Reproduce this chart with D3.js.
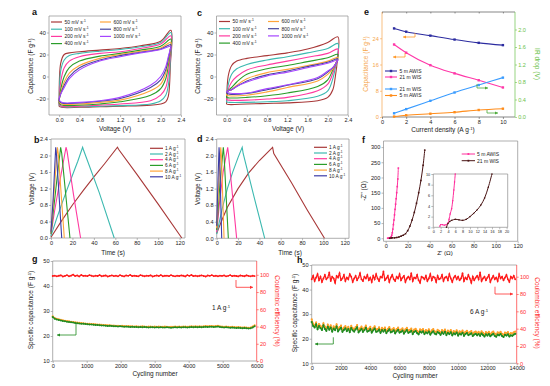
<!DOCTYPE html>
<html>
<head>
<meta charset="utf-8">
<script src="https://cdn.jsdelivr.net/npm/d3@7"></script>
<style>
  body { margin: 0; background: #fff; }
  svg { font-family: "Liberation Sans", Arial, sans-serif; }
</style>
</head>
<body>
<svg id="fig" width="550" height="386"></svg>
<script>
"use strict";

// ---------- data ----------
// CV (a: 5 m AWIS, c: 21 m WIS), capacitance F/g at fixed voltages
var cvRates = ["50", "100", "200", "400", "600", "800", "1000"];
var cvColors = ["#a83838", "#3cb9b0", "#ff3aa0", "#2a9d2a", "#ffa53a", "#45459e", "#a545ff"];
var cvUpV = [0, 0.03, 0.1, 0.2, 0.4, 0.8, 1.2, 1.6, 2.0, 2.2];
var cvLowV = [2.19, 2.15, 2.1, 2.0, 1.8, 1.2, 0.8, 0.4, 0.05, 0.0];
var aUp = [
  [-26, 12, 20, 21.5, 22.5, 24, 25.5, 28, 32, 42],
  [-25, 5, 15, 19, 21, 23, 24.5, 27, 31, 40],
  [-24, -5, 8, 14, 18, 21, 22.5, 25.5, 29.5, 37],
  [-23, -12, 0, 8, 14, 18.5, 21, 24, 27.5, 34],
  [-22, -15, -5, 3, 10, 16.5, 20, 23, 26, 31],
  [-21, -16, -8, 0, 8, 15, 19, 22, 25, 29],
  [-20, -16, -10, -2, 6, 14, 18, 21.5, 24.5, 27.5]
];
var aLow = [
  [10, -18, -23, -25, -26, -27, -27.5, -28, -28, -27],
  [15, -8, -17, -22, -25, -26.5, -27, -27.5, -27.5, -26],
  [20, 2, -10, -17, -22, -25, -26, -27, -27, -25],
  [24, 10, -2, -11, -17, -23, -25, -26, -26, -24],
  [25, 14, 3, -7, -13, -21.5, -23.5, -25, -25, -23],
  [25, 16, 6, -3, -10, -20, -22.5, -24, -24, -22],
  [25, 18, 9, 0, -8, -19, -22, -23.5, -23.5, -21]
];
var cUp = [
  [-24, 0, 10, 14, 16.5, 19, 21.5, 25, 31, 36],
  [-22, -8, 2, 7, 11, 15, 18, 21.5, 25.5, 30],
  [-20, -12, -5, 0, 6, 10.5, 14, 17.5, 21, 25],
  [-18, -13, -10, -5, 2, 7, 10, 13.5, 17, 20],
  [-16, -13, -12, -8, -2, 3.5, 6.5, 10, 14, 17.5],
  [-15, -13, -12, -9, -4, 1.5, 5, 9, 13, 16],
  [-14, -13, -12, -9, -5, 0.5, 4, 8, 12, 15]
];
var cLow = [
  [15, 0, -12, -19, -22, -24, -24.5, -25, -25.5, -25],
  [18, 8, -2, -13, -18, -22, -23, -23.5, -23.5, -23],
  [17, 10, 3, -7, -13, -19, -20.5, -21.5, -21.5, -21],
  [16, 11, 6, -3, -9, -15, -17.5, -19, -19.5, -19],
  [15, 11, 7, 2, -4, -10, -14, -17, -17.5, -17],
  [14, 11, 8, 4, -2, -8, -12, -15.5, -16, -15],
  [14, 11, 8, 5, -1, -7.5, -11, -15, -15, -14]
];

// GCD [time s, voltage V]
var gcdRates = ["1", "2", "4", "6", "8", "10"];
var gcdColors = ["#a83838", "#3cb9b0", "#ff3aa0", "#2a9d2a", "#ffa53a", "#3c3ca8"];
var bCurves = [
  [[0, 0.02], [10, 0.42], [20, 0.8], [30, 1.15], [40, 1.48], [50, 1.8], [62, 2.2], [63, 2.15], [80, 1.55], [100, 0.82], [122, 0]],
  [[0, 0.05], [5, 0.45], [10, 0.82], [15, 1.18], [20, 1.52], [25, 1.86], [29.5, 2.2], [30.5, 2.12], [45, 1.1], [59, 0]],
  [[0, 0.1], [3, 0.6], [7, 1.2], [10.5, 1.7], [14, 2.2], [15, 2.1], [21, 1.05], [27.6, 0]],
  [[0, 0.1], [2, 0.6], [5, 1.3], [9, 2.2], [10, 2.05], [17.7, 0]],
  [[0, 0.15], [3, 1.15], [6, 2.2], [6.8, 2.05], [12.4, 0]],
  [[0, 0.15], [2, 0.95], [4.4, 2.2], [5.2, 2.0], [10, 0]]
];
var dCurves = [
  [[0, 0.12], [5, 0.45], [10, 0.75], [20, 1.2], [30, 1.58], [40, 1.88], [52.4, 2.2], [53.5, 2.05], [70, 1.35], [85, 0.68], [101, 0]],
  [[0, 0.1], [5, 0.7], [10, 1.2], [15, 1.6], [20, 1.95], [23.9, 2.2], [24.8, 2.05], [35, 1.0], [45, 0]],
  [[0, 0.15], [3, 0.95], [6, 1.6], [10.3, 2.2], [11, 2.05], [18.7, 0]],
  [[0, 0.2], [3, 1.3], [6.2, 2.2], [6.9, 2.0], [10.9, 0]],
  [[0, 0.25], [2, 1.4], [3.8, 2.2], [4.4, 2.0], [6.9, 0]],
  [[0, 0.3], [1.2, 1.4], [2.2, 2.2], [2.7, 2.0], [4.7, 0]]
];

// e: rate performance
var eCurrent = [1, 2, 4, 6, 8, 10];
var eCapAWIS = [27.0, 26.0, 24.8, 23.6, 22.6, 21.9];
var eCapWIS = [22.1, 19.6, 15.8, 13.3, 11.2, 9.0];
var eIrWIS = [0.085, 0.18, 0.37, 0.56, 0.73, 0.90];
var eIrAWIS = [0.01, 0.04, 0.075, 0.11, 0.16, 0.19];

// f: Nyquist [Z' ohm, -Z'' ohm]
var fAWIS = [[1.8, 0.3], [2.5, 0.5], [3.5, 0.5], [4, 1], [4.5, 2], [5, 5], [5.5, 10], [6, 18], [6.5, 30], [7, 45], [7.5, 60],
  [8, 77], [8.5, 95], [9, 112], [9.5, 130], [10, 150], [10.5, 170], [11, 195], [11.5, 231]];
var fWIS = [[3.6, 0], [5, 1], [6, 1.5], [8, 1.3], [10, 2.5], [12, 4], [14, 7], [16, 10], [18, 15], [20, 25], [22, 40],
  [24, 60], [26, 85], [28, 115], [30, 150], [32, 190], [34, 240], [35.5, 290]];
var fAWISzoom = [[1.8, 0.2], [2, 0.5], [2.5, 0.5], [3, 0.4], [3.5, 0.5], [4, 0.8], [4.3, 1.5], [4.6, 2.5], [5, 3.5],
  [5.3, 5], [5.6, 7], [5.8, 8.5], [6, 10]];
var fWISzoom = [[3.6, 0], [4, 0.7], [4.5, 1.1], [5, 1.3], [6, 1.5], [7, 1.4], [8, 1.3], [9, 1.5], [10, 2], [11, 2.6],
  [12, 3.3], [13, 4.2], [14, 5.5], [15, 7.5], [16, 10]];

// g: cycling at 1 A/g (one value every gStep cycles)
var gStep = 60;
var gCE = [98.6,99.1,98.2,98.9,99.4,98.0,98.7,99.6,98.3,99.0,100.2,98.5,99.3,98.1,99.8,98.7,99.0,98.4,99.5,98.9,
  98.2,99.1,98.6,99.7,98.3,98.9,99.2,98.0,98.8,99.4,98.5,99.0,98.2,99.6,98.7,98.1,99.3,98.8,99.9,98.4,
  99.0,98.6,98.2,99.5,98.9,98.3,99.1,98.7,99.4,98.0,98.8,99.2,98.5,99.7,98.3,98.9,99.1,98.4,99.6,98.7,
  98.2,99.0,98.6,99.3,98.9,98.1,99.5,98.7,99.8,98.4,99.1,98.3,98.9,99.4,98.6,98.0,99.2,98.8,99.6,98.5,
  98.9,98.3,99.1,98.7,99.3,98.2,98.8,99.5,98.4,99.0,98.6,98.1,99.2,98.8,98.3,99.4,98.7,98.2,98.9,98.5];
var gCapGreen = [27.6,26.9,26.6,26.4,26.2,26.0,25.9,25.7,25.6,25.5,25.4,25.2,25.1,25.0,24.9,24.9,24.8,24.7,24.6,24.6,
  24.5,24.4,24.4,24.3,24.2,24.2,24.1,24.0,24.1,24.0,23.9,23.9,23.8,23.9,23.8,23.7,23.8,23.7,23.6,23.7,
  23.6,23.6,23.5,23.6,23.5,23.6,23.5,23.4,23.5,23.5,23.4,23.5,23.4,23.5,23.4,23.4,23.5,23.4,23.3,23.4,
  23.5,23.4,23.5,23.4,23.5,23.5,23.4,23.5,23.6,23.5,23.6,23.5,23.6,23.5,23.6,23.7,23.6,23.7,23.7,23.6,
  23.7,23.8,23.6,23.5,23.4,23.5,23.4,23.3,23.4,23.3,23.2,23.3,23.2,23.1,23.2,23.1,23.0,23.1,23.4,23.9];
var gCapOrange = [27.9,27.2,26.9,26.7,26.5,26.3,26.1,26.0,25.9,25.7,25.6,25.5,25.4,25.3,25.2,25.1,25.0,24.9,24.9,24.8,
  24.8,24.7,24.6,24.6,24.5,24.4,24.4,24.3,24.3,24.2,24.2,24.1,24.1,24.0,24.1,24.0,23.9,24.0,23.9,23.9,
  23.8,23.9,23.8,23.8,23.9,23.8,23.7,23.8,23.8,23.7,23.8,23.7,23.8,23.7,23.7,23.8,23.7,23.6,23.7,23.7,
  23.8,23.7,23.8,23.7,23.8,23.8,23.7,23.8,23.9,23.8,23.9,23.8,23.9,23.8,23.9,24.0,23.9,24.0,24.0,23.9,
  24.0,24.1,23.9,23.8,23.7,23.8,23.7,23.6,23.7,23.6,23.5,23.6,23.5,23.4,23.5,23.4,23.3,23.4,23.8,24.3];

// h: cycling at 6 A/g (one value every hStep cycles)
var hStep = 100;
var hCE = [97,101,95,99,103,96,100,94,98,102,97,99,105,95,100,98,93,101,99,104,
  96,98,102,95,99,97,103,100,94,98,101,96,99,104,97,95,100,98,102,96,
  99,94,101,97,103,98,95,100,99,106,96,98,101,94,99,102,97,95,100,98,
  103,96,99,101,94,98,100,97,104,95,99,98,102,96,93,100,99,97,101,95,
  98,103,96,100,99,94,101,97,98,102,95,99,100,96,103,98,94,99,101,97,
  100,96,98,104,95,99,97,102,98,93,100,96,99,101,97,105,95,98,100,96,
  99,102,94,98,101,97,99,95,103,98,100,96,99,102,97,94,100,98,101,97];
var hCapGreen = [26.8,25.2,24.6,25.8,23.9,25.1,24.3,23.6,25.4,24.0,
  23.2,24.8,23.7,24.5,22.9,24.1,23.5,24.9,23.0,23.8,
  24.4,22.8,23.6,24.2,23.1,23.9,22.7,24.3,23.4,22.9,
  23.8,24.6,22.6,23.3,24.0,22.8,23.5,24.4,22.9,23.2,
  23.9,22.5,23.4,24.1,22.8,23.0,23.7,22.4,23.5,22.9,
  23.6,22.3,23.1,23.8,22.6,22.9,23.4,22.2,23.0,23.6,
  22.5,22.8,23.3,22.1,22.9,23.5,22.4,22.7,23.2,21.9,
  22.8,23.1,22.3,21.8,22.9,22.5,23.0,21.9,22.6,22.2,
  22.9,21.7,22.5,23.0,22.1,21.8,22.7,22.3,21.6,22.6,
  22.0,22.8,21.5,22.4,21.9,22.6,21.4,22.2,21.8,22.5,
  21.3,22.1,21.7,22.4,21.2,21.9,22.3,21.5,21.8,22.2,
  21.1,21.7,22.0,21.4,21.9,21.2,22.1,21.5,20.9,21.8,
  21.3,21.9,21.0,21.6,22.0,21.2,20.8,21.7,21.4,21.9,
  21.1,20.7,21.6,21.3,21.8,20.9,21.4,21.2,21.7,22.0];
var hCapOrange = [27.9,26.1,25.3,26.6,24.8,26.0,25.2,24.4,26.3,24.9,
  24.1,25.7,24.6,25.4,23.8,25.0,24.4,25.8,23.9,24.7,
  25.3,23.7,24.5,25.1,24.0,24.8,23.6,25.2,24.3,23.8,
  24.7,25.5,23.5,24.2,24.9,23.7,24.4,25.3,23.8,24.1,
  24.8,23.4,24.3,25.0,23.7,23.9,24.6,23.3,24.4,23.8,
  24.5,23.2,24.0,24.7,23.5,23.8,24.3,23.1,23.9,24.5,
  23.4,23.7,24.2,23.0,23.8,24.4,23.3,23.6,24.1,22.8,
  23.7,24.0,23.2,22.7,23.8,23.4,23.9,22.8,23.5,23.1,
  23.8,22.6,23.4,23.9,23.0,22.7,23.6,23.2,22.5,23.5,
  22.9,23.7,22.4,23.3,22.8,23.5,22.3,23.1,22.7,23.4,
  22.2,23.0,22.6,23.3,22.1,22.8,23.2,22.4,22.7,23.1,
  22.0,22.6,22.9,22.3,22.8,22.1,23.0,22.4,21.8,22.7,
  22.2,22.8,21.9,22.5,22.9,22.1,21.7,22.6,22.3,22.8,
  22.0,21.6,22.5,22.2,22.7,21.8,22.3,22.1,22.6,22.9];

// ---------- helpers ----------
var svg = d3.select("#fig");
var FS = 5.6;

function styleAxis(sel, lineCol, textCol, fs) {
  sel.select(".domain").remove();
  sel.selectAll(".tick line").attr("stroke", lineCol).attr("stroke-width", 0.6);
  sel.selectAll(".tick text").attr("fill", textCol).attr("font-size", fs)
    .attr("font-family", "Liberation Sans, Arial, sans-serif");
}

function makePanel(p) {
  var x = d3.scaleLinear().domain(p.xDom).range([p.left, p.right]);
  var y = d3.scaleLinear().domain(p.yDom).range([p.bottom, p.top]);
  var g = svg.append("g");
  var fs = p.fs || FS;
  var frame = p.frame || "#8c8c8c";
  var lc = p.leftColor || frame, rc = p.rightColor || frame;

  var xa = g.append("g").attr("transform", "translate(0," + p.bottom + ")")
    .call(d3.axisBottom(x).tickValues(p.xTicks).tickFormat(p.xFmt).tickSize(2).tickPadding(1.2));
  styleAxis(xa, frame, "#222", fs);
  var ya = g.append("g").attr("transform", "translate(" + p.left + ",0)")
    .call(d3.axisLeft(y).tickValues(p.yTicks).tickFormat(p.yFmt).tickSize(2).tickPadding(1.2));
  styleAxis(ya, lc, p.leftColor || "#222", fs);

  var y2 = null;
  if (p.y2Dom) {
    y2 = d3.scaleLinear().domain(p.y2Dom).range([p.bottom, p.top]);
    var ra = g.append("g").attr("transform", "translate(" + p.right + ",0)")
      .call(d3.axisRight(y2).tickValues(p.y2Ticks).tickFormat(p.y2Fmt).tickSize(2).tickPadding(1.2));
    styleAxis(ra, rc, rc, fs);
  }
  if (p.topTicks) {
    var ta = g.append("g").attr("transform", "translate(0," + p.top + ")")
      .call(d3.axisTop(x).tickValues(p.xTicks).tickFormat("").tickSize(-1.5));
    styleAxis(ta, frame, "#222", fs);
  }
  g.append("line").attr("x1", p.left).attr("x2", p.right).attr("y1", p.bottom).attr("y2", p.bottom).attr("stroke", frame).attr("stroke-width", 0.7);
  g.append("line").attr("x1", p.left).attr("x2", p.right).attr("y1", p.top).attr("y2", p.top).attr("stroke", frame).attr("stroke-width", 0.7);
  g.append("line").attr("x1", p.left).attr("x2", p.left).attr("y1", p.top).attr("y2", p.bottom).attr("stroke", lc).attr("stroke-width", 0.7);
  g.append("line").attr("x1", p.right).attr("x2", p.right).attr("y1", p.top).attr("y2", p.bottom).attr("stroke", rc).attr("stroke-width", 0.7);
  return { x: x, y: y, y2: y2, g: g };
}

// text with a "-1" superscript part; parts: [text, isSup]
function richText(x, y, parts, opt) {
  opt = opt || {};
  var fs = opt.fs || 6.5;
  var t = svg.append("text").attr("x", x).attr("y", y)
    .attr("font-size", fs).attr("fill", opt.color || "#222")
    .attr("text-anchor", opt.anchor || "middle");
  if (opt.rotate) t.attr("transform", "rotate(" + opt.rotate + "," + x + "," + y + ")");
  if (opt.bold) t.attr("font-weight", "bold");
  parts.forEach(function(pt) {
    var s = t.append("tspan").text(pt[0]);
    if (pt[1]) s.attr("font-size", fs * 0.65).attr("baseline-shift", "super");
  });
  return t;
}

function panelLabel(x, y, s) {
  svg.append("text").attr("x", x).attr("y", y).attr("font-size", 9).attr("font-weight", "bold")
    .attr("fill", "#111").text(s);
}

function arrow(pts, color, headDir) {
  var line = d3.line();
  svg.append("path").attr("d", line(pts)).attr("fill", "none").attr("stroke", color).attr("stroke-width", 0.8);
  var e = pts[pts.length - 1];
  var s = headDir; // -1 left, +1 right
  svg.append("path").attr("d", "M" + e[0] + "," + e[1] + " l" + (-3 * s) + ",-1.6 l0,3.2 z").attr("fill", color);
}

function fmt1(d) { return d3.format(".1f")(d); }

// ---------- a & c: CV ----------
function drawCV(P, ups, lows, legendX, legendY) {
  var line = d3.line().x(function(d) { return P.x(d[0]); }).y(function(d) { return P.y(d[1]); })
    .curve(d3.curveCatmullRomClosed.alpha(0.5));
  cvRates.forEach(function(r, i) {
    var pts = cvUpV.map(function(v, k) { return [v, ups[i][k]]; })
      .concat(cvLowV.map(function(v, k) { return [v, lows[i][k]]; }));
    P.g.append("path").attr("d", line(pts)).attr("fill", "none")
      .attr("stroke", cvColors[i]).attr("stroke-width", 1.1);
  });
  cvRates.forEach(function(r, i) {
    var col = i < 4 ? 0 : 1, row = i < 4 ? i : i - 4;
    var lx = legendX + col * 49, ly = legendY + row * 7.2;
    svg.append("line").attr("x1", lx).attr("x2", lx + 11).attr("y1", ly).attr("y2", ly)
      .attr("stroke", cvColors[i]).attr("stroke-width", 1.2);
    richText(lx + 13.5, ly + 1.8, [[r + " mV s", false], ["-1", true]], { fs: 5, anchor: "start" });
  });
}

var cvCommon = { xDom: [-0.2, 2.4], yDom: [-35, 55], xTicks: [0, 0.4, 0.8, 1.2, 1.6, 2.0, 2.4], yTicks: [-20, 0, 20, 40],
  xFmt: fmt1, yFmt: d3.format("d") };
var PA = makePanel(Object.assign({ left: 49, right: 181, top: 16, bottom: 115 }, cvCommon));
drawCV(PA, aUp, aLow, 51, 22);
var PC = makePanel(Object.assign({ left: 216.5, right: 348, top: 16, bottom: 115 }, cvCommon));
drawCV(PC, cUp, cLow, 219, 21.5);

richText(115, 131, [["Voltage (V)", false]], {});
richText(288, 131, [["Voltage (V)", false]], {});
richText(33, 66, [["Capacitance (F g", false], ["-1", true], [")", false]], { rotate: -90 });
richText(200, 66, [["Capacitance (F g", false], ["-1", true], [")", false]], { rotate: -90 });
panelLabel(32, 15, "a");
panelLabel(197, 16, "c");

// ---------- b & d: GCD ----------
function drawGCD(P, curves, lx, ly) {
  var line = d3.line().x(function(d) { return P.x(d[0]); }).y(function(d) { return P.y(d[1]); })
    .curve(d3.curveLinear);
  curves.forEach(function(c, i) {
    P.g.append("path").attr("d", line(c)).attr("fill", "none")
      .attr("stroke", gcdColors[i]).attr("stroke-width", 1.1);
  });
  gcdRates.forEach(function(r, i) {
    var yy = ly + i * 5.7;
    svg.append("line").attr("x1", lx).attr("x2", lx + 13).attr("y1", yy).attr("y2", yy)
      .attr("stroke", gcdColors[i]).attr("stroke-width", 1.2);
    richText(lx + 15, yy + 1.7, [[r + " A g", false], ["-1", true]], { fs: 4.8, anchor: "start" });
  });
}
var gcdCommon = { yDom: [0, 2.4], xTicks: [0, 20, 40, 60, 80, 100, 120], yTicks: [0, 0.4, 0.8, 1.2, 1.6, 2.0, 2.4],
  xFmt: d3.format("d"), yFmt: fmt1 };
var PB = makePanel(Object.assign({ left: 51, right: 185, top: 139, bottom: 238, xDom: [0, 125] }, gcdCommon));
drawGCD(PB, bCurves, 150, 148.3);
var PD = makePanel(Object.assign({ left: 216.7, right: 349, top: 139, bottom: 238.3, xDom: [0, 124] }, gcdCommon));
drawGCD(PD, dCurves, 314, 147.3);

richText(113, 254.5, [["Time (s)", false]], {});
richText(290, 254.5, [["Time (s)", false]], {});
richText(34, 189, [["Voltage (V)", false]], { rotate: -90 });
richText(200, 189, [["Voltage (V)", false]], { rotate: -90 });
panelLabel(34, 143, "b");
panelLabel(197, 142, "d");

// ---------- e: rate performance ----------
var orangeAx = "#f5a54a", greenAx = "#6cc24a";
var PE = makePanel({ left: 382, right: 515, top: 12, bottom: 117, xDom: [0, 11], yDom: [0, 32],
  xTicks: [0, 2, 4, 6, 8, 10], yTicks: [0, 8, 16, 24], xFmt: d3.format("d"), yFmt: d3.format("d"),
  y2Dom: [0, 2.4], y2Ticks: [0, 0.4, 0.8, 1.2, 1.6, 2.0], y2Fmt: fmt1,
  leftColor: orangeAx, rightColor: greenAx, frame: "#555", topTicks: true });

var eSeries = [
  { v: eCapAWIS, axis: "y", color: "#2c2ca0", name: "5 m AWIS" },
  { v: eCapWIS, axis: "y", color: "#ff37a8", name: "21 m WIS" },
  { v: eIrWIS, axis: "y2", color: "#3a9cff", name: "21 m WIS" },
  { v: eIrAWIS, axis: "y2", color: "#ff8c1a", name: "5 m AWIS" }
];
var eLegendY = [71, 77, 89, 95.5];
eSeries.forEach(function(s, i) {
  var ys = PE[s.axis];
  var pts = eCurrent.map(function(c, k) { return [PE.x(c), ys(s.v[k])]; });
  PE.g.append("path").attr("d", d3.line().curve(d3.curveMonotoneX)(pts)).attr("fill", "none")
    .attr("stroke", s.color).attr("stroke-width", 1.1);
  PE.g.selectAll(null).data(pts).enter().append("rect")
    .attr("x", function(d) { return d[0] - 1.2; }).attr("y", function(d) { return d[1] - 1.2; })
    .attr("width", 2.4).attr("height", 2.4).attr("fill", s.color);
  var yy = eLegendY[i];
  svg.append("line").attr("x1", 385).attr("x2", 397).attr("y1", yy).attr("y2", yy)
    .attr("stroke", s.color).attr("stroke-width", 1.1);
  svg.append("rect").attr("x", 389.8).attr("y", yy - 1.2).attr("width", 2.4).attr("height", 2.4).attr("fill", s.color);
  svg.append("text").attr("x", 399.5).attr("y", yy + 1.8).attr("font-size", 5).attr("fill", "#222").text(s.name);
});
arrow([[415, 33], [415, 37], [403, 37]], "#ff9a2a", -1);
arrow([[405, 53], [405, 57], [393, 57]], "#ff9a2a", -1);
arrow([[477, 84], [477, 88], [488, 88]], "#4caa3a", 1);
arrow([[487, 110], [487, 113], [498, 113]], "#4caa3a", 1);

richText(443, 132, [["Current density (A g", false], ["-1", true], [")", false]], {});
richText(368, 64, [["Capacitance (F g", false], ["-1", true], [")", false]], { rotate: -90, color: orangeAx });
richText(535, 64, [["IR drop (V)", false]], { rotate: 90, color: greenAx });
panelLabel(364, 15, "e");

// ---------- f: Nyquist ----------
var PF = makePanel({ left: 383.5, right: 517.7, top: 141, bottom: 241.3, xDom: [-2, 120], yDom: [-10, 320],
  xTicks: [0, 20, 40, 60, 80, 100, 120], yTicks: [0, 50, 100, 150, 200, 250, 300],
  xFmt: d3.format("d"), yFmt: d3.format("d"), frame: "#8c8c8c" });
var fColors = ["#ff2f9c", "#4a1616"];
function drawNyq(P, data, col, ms) {
  var pts = data.map(function(d) { return [P.x(d[0]), P.y(d[1])]; });
  P.g.append("path").attr("d", d3.line().curve(d3.curveCatmullRom)(pts)).attr("fill", "none")
    .attr("stroke", col).attr("stroke-width", 1);
  P.g.selectAll(null).data(pts).enter().append("rect")
    .attr("x", function(d) { return d[0] - ms / 2; }).attr("y", function(d) { return d[1] - ms / 2; })
    .attr("width", ms).attr("height", ms).attr("fill", col);
}
drawNyq(PF, fAWIS, fColors[0], 1.6);
drawNyq(PF, fWIS, fColors[1], 1.6);
["5 m AWIS", "21 m WIS"].forEach(function(n, i) {
  var yy = 154 + i * 6.7;
  svg.append("line").attr("x1", 461.7).attr("x2", 475).attr("y1", yy).attr("y2", yy)
    .attr("stroke", fColors[i]).attr("stroke-width", 1);
  svg.append("rect").attr("x", 467.5).attr("y", yy - 0.9).attr("width", 1.8).attr("height", 1.8).attr("fill", fColors[i]);
  svg.append("text").attr("x", 477).attr("y", yy + 1.8).attr("font-size", 5).attr("fill", "#222").text(n);
});
// inset
svg.append("rect").attr("x", 433.3).attr("y", 174).attr("width", 74.4).attr("height", 53.3).attr("fill", "#fff");
var PFi = makePanel({ left: 433.3, right: 507.7, top: 174, bottom: 227.3, xDom: [0, 20.3], yDom: [0, 10],
  xTicks: d3.range(0, 21, 2), yTicks: [0, 2, 4, 6, 8, 10], xFmt: d3.format("d"), yFmt: d3.format("d"),
  fs: 3.8, frame: "#8c8c8c" });
drawNyq(PFi, fAWISzoom, fColors[0], 1.3);
drawNyq(PFi, fWISzoom, fColors[1], 1.3);

richText(445, 254.5, [["Z' (\u03A9)", false]], { fs: 6.2 });
richText(366, 191, [["-Z'' (\u03A9)", false]], { rotate: -90 });
panelLabel(362, 143, "f");

// ---------- g & h: cycling ----------
function drawCycling(P, step, green, orange, ce, ms) {
  var xs = function(i) { return P.x(i * step); };
  [[orange, "#ffa028"], [green, "#1f8a1f"]].forEach(function(s) {
    var pts = s[0].map(function(v, i) { return [xs(i), P.y(v)]; });
    P.g.append("path").attr("d", d3.line()(pts)).attr("fill", "none").attr("stroke", s[1]).attr("stroke-width", 1.2);
    P.g.selectAll(null).data(pts).enter().append("circle")
      .attr("cx", function(d) { return d[0]; }).attr("cy", function(d) { return d[1]; })
      .attr("r", ms).attr("fill", s[1]);
  });
  var cpts = ce.map(function(v, i) { return [xs(i), P.y2(v)]; });
  P.g.append("path").attr("d", d3.line()(cpts)).attr("fill", "none").attr("stroke", "#ff1a1a").attr("stroke-width", 1.3);
  P.g.selectAll(null).data(cpts).enter().append("circle")
    .attr("cx", function(d) { return d[0]; }).attr("cy", function(d) { return d[1]; })
    .attr("r", 0.9).attr("fill", "#ff1a1a");
}
var red = "#ff3030";
var PG = makePanel({ left: 52.7, right: 256.7, top: 261, bottom: 361, xDom: [0, 6000], yDom: [10, 50],
  xTicks: d3.range(0, 6001, 1000), yTicks: [10, 20, 30, 40, 50], xFmt: d3.format("d"), yFmt: d3.format("d"),
  y2Dom: [0, 116], y2Ticks: [0, 20, 40, 60, 80, 100], y2Fmt: d3.format("d"), rightColor: red });
drawCycling(PG, gStep, gCapGreen, gCapOrange, gCE, 1.0);
arrow([[76, 323], [76, 335], [57, 335]], "#1f8a1f", -1);
arrow([[236, 280], [236, 287.3], [253, 287.3]], red, 1);
richText(221, 310, [["1 A g", false], ["-1", true]], { fs: 6.5 });
richText(155, 376, [["Cycling number", false]], {});
richText(33, 310, [["Specific capacitance (F g", false], ["-1", true], [")", false]], { rotate: -90 });
richText(275, 311, [["Coulombic efficiency (%)", false]], { rotate: 90, color: red });
panelLabel(32, 262, "g");

var PH = makePanel({ left: 311.7, right: 516.7, top: 265, bottom: 363.3, xDom: [0, 14000], yDom: [10, 50],
  xTicks: d3.range(0, 14001, 2000), yTicks: [10, 20, 30, 40, 50], xFmt: d3.format("d"), yFmt: d3.format("d"),
  y2Dom: [0, 113.5], y2Ticks: [0, 20, 40, 60, 80, 100], y2Fmt: d3.format("d"), rightColor: red });
drawCycling(PH, hStep, hCapGreen, hCapOrange, hCE, 1.1);
arrow([[333.3, 337.3], [333.3, 344], [315, 344]], "#1f8a1f", -1);
arrow([[495, 286.7], [495, 294], [513, 294]], red, 1);
richText(479, 314, [["6 A g", false], ["-1", true]], { fs: 6.5 });
richText(415, 378, [["Cycling number", false]], {});
richText(297, 313, [["Specific capacitance (F g", false], ["-1", true], [")", false]], { rotate: -90 });
richText(535, 313, [["Coulombic efficiency (%)", false]], { rotate: 90, color: red });
panelLabel(297, 263, "h");
</script>
</body>
</html>
